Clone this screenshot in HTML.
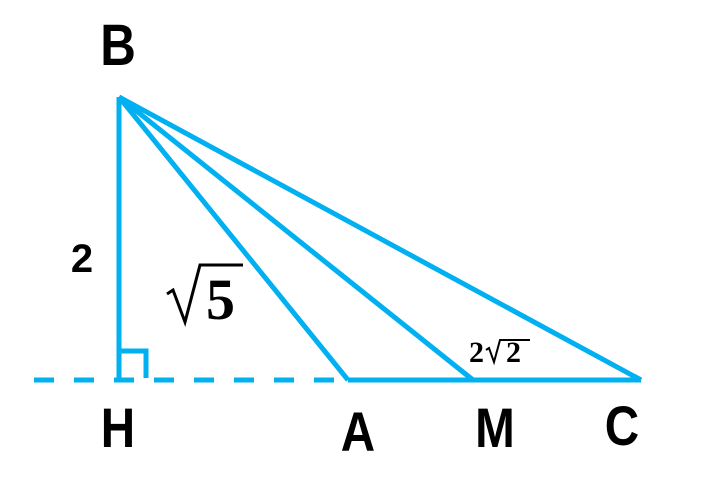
<!DOCTYPE html>
<html><head><meta charset="utf-8"><style>
html,body{margin:0;padding:0;background:#fff;}
svg{display:block}
.l{font-family:"Liberation Sans",sans-serif;font-weight:bold;fill:#000}
.m{font-family:"Liberation Serif",serif;font-weight:bold;fill:#000}
</style></head><body>
<svg width="714" height="492" viewBox="0 0 714 492">
<g stroke="#00b0f0" stroke-width="5" fill="none">
<line x1="34" y1="380" x2="348" y2="380" stroke-dasharray="20,20"/>
<line x1="348" y1="380" x2="641" y2="380"/>
<line x1="119" y1="97" x2="119" y2="380"/>
<line x1="119" y1="97" x2="348" y2="380"/>
<line x1="119" y1="97" x2="473" y2="380"/>
<line x1="119" y1="97" x2="641" y2="380"/>
<polyline points="119,351 146,351 146,378"/>
</g>
<g class="l" text-anchor="middle">
<text x="118" y="65" font-size="58" transform="translate(118 0) scale(0.85 1) translate(-118 0)">B</text>
<text x="118" y="447" font-size="56" transform="translate(118 0) scale(0.85 1) translate(-118 0)">H</text>
<text x="358" y="451" font-size="56" transform="translate(358 0) scale(0.85 1) translate(-358 0)">A</text>
<text x="495" y="447" font-size="56" transform="translate(495 0) scale(0.85 1) translate(-495 0)">M</text>
<text x="622" y="445" font-size="56" transform="translate(622 0) scale(0.85 1) translate(-622 0)">C</text>
<text x="82" y="272" font-size="40">2</text>
</g>
<g stroke="#000" fill="none" stroke-linejoin="miter">
<polyline points="167,294 173,290 185,322 200,265 243,265" stroke-width="3"/>
<polyline points="486,350 489,348 494,362 500,340 530,340" stroke-width="2"/>
</g>
<g class="m">
<text x="206" y="319" font-size="58">5</text>
<text x="469" y="362" font-size="30">2</text>
<text x="506" y="362" font-size="30">2</text>
</g>
</svg>
</body></html>
